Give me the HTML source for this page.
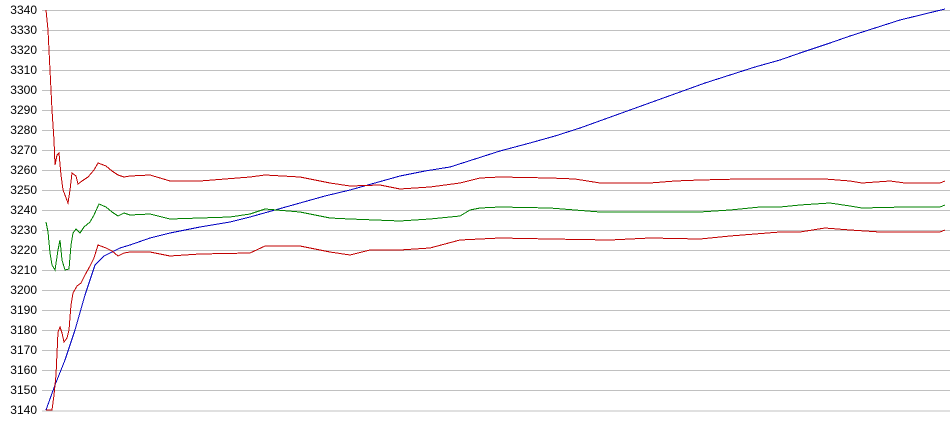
<!DOCTYPE html>
<html><head><style>body{margin:0;background:#fff}svg{display:block}text{font-family:"Liberation Sans",sans-serif;font-size:12px;fill:#000}</style></head><body>
<svg width="950" height="435" xmlns="http://www.w3.org/2000/svg">
<g stroke="#c0c0c0" stroke-width="1">
<line x1="42" x2="950" y1="10.5" y2="10.5"/><line x1="42" x2="950" y1="30.5" y2="30.5"/><line x1="42" x2="950" y1="50.5" y2="50.5"/><line x1="42" x2="950" y1="70.5" y2="70.5"/><line x1="42" x2="950" y1="90.5" y2="90.5"/><line x1="42" x2="950" y1="110.5" y2="110.5"/><line x1="42" x2="950" y1="130.5" y2="130.5"/><line x1="42" x2="950" y1="150.5" y2="150.5"/><line x1="42" x2="950" y1="170.5" y2="170.5"/><line x1="42" x2="950" y1="190.5" y2="190.5"/><line x1="42" x2="950" y1="210.5" y2="210.5"/><line x1="42" x2="950" y1="230.5" y2="230.5"/><line x1="42" x2="950" y1="250.5" y2="250.5"/><line x1="42" x2="950" y1="270.5" y2="270.5"/><line x1="42" x2="950" y1="290.5" y2="290.5"/><line x1="42" x2="950" y1="310.5" y2="310.5"/><line x1="42" x2="950" y1="330.5" y2="330.5"/><line x1="42" x2="950" y1="350.5" y2="350.5"/><line x1="42" x2="950" y1="370.5" y2="370.5"/><line x1="42" x2="950" y1="390.5" y2="390.5"/><line x1="42" x2="950" y1="411" y2="411"/>
</g>
<g text-anchor="end">
<text x="37" y="14">3340</text><text x="37" y="34">3330</text><text x="37" y="54">3320</text><text x="37" y="74">3310</text><text x="37" y="94">3300</text><text x="37" y="114">3290</text><text x="37" y="134">3280</text><text x="37" y="154">3270</text><text x="37" y="174">3260</text><text x="37" y="194">3250</text><text x="37" y="214">3240</text><text x="37" y="234">3230</text><text x="37" y="254">3220</text><text x="37" y="274">3210</text><text x="37" y="294">3200</text><text x="37" y="314">3190</text><text x="37" y="334">3180</text><text x="37" y="354">3170</text><text x="37" y="374">3160</text><text x="37" y="394">3150</text><text x="37" y="414">3140</text>
</g>
<g fill="none" stroke-width="1" shape-rendering="crispEdges">
<polyline stroke="#0000c0" points="46,410 55,385 65,360 75,330 85,295 95,265 104,256 110,253 120,248 130,245 150,238 170,233 200,227 230,222 250,217 275,210 300,203 325,196 350,190 375,183 400,176 425,171 450,167 475,159 500,151 530,143 555,136 580,128 605,119 630,110 655,101 680,92 705,83 730,75 755,67 780,60 800,53 830,43 850,36 875,28 900,20 945,9"/>
<polyline stroke="#008000" points="46,222 48,232 50,253 52,265 55,270 58,250 60,240 62,260 65,270 69,269 71,245 73,233 76,229 80,233 84,227 90,222 94,215 99,204 106,207 112,212 118,216 124,213 130,215 150,214 170,219 200,218 230,217 250,214 265,209 300,212 330,218 350,219 375,220 400,221 430,219 460,216 470,210 480,208 500,207 550,208 575,210 600,212 650,212 700,212 730,210 760,207 780,207 800,205 830,203 850,206 862,208 905,207 940,207 945,205"/>
<polyline stroke="#c00000" points="46,10 48,30 50,70 52,110 54,140 55,165 57,155 59,153 61,175 63,190 65,195 68,203 70,190 72,173 76,176 78,184 82,181 88,177 94,170 98,163 106,166 112,171 118,175 124,177 130,176 150,175 170,181 200,181 225,179 250,177 265,175 300,177 330,183 350,186 380,185 400,189 430,187 460,183 480,178 500,177 550,178 575,179 600,183 650,183 675,181 700,180 740,179 780,179 825,179 850,181 862,183 890,181 905,183 940,183 945,181"/>
<polyline stroke="#c00000" points="46,410 52,410 54,395 56,375 58,332 60,327 62,333 64,342 67,338 69,330 71,305 73,293 77,286 81,283 85,275 90,266 94,258 98,245 106,248 112,251 118,256 124,253 130,252 150,252 170,256 200,254 250,253 265,246 300,246 330,252 350,255 370,250 400,250 430,248 460,240 480,239 500,238 550,239 610,240 650,238 700,239 730,236 780,232 800,232 825,228 850,230 880,232 940,232 945,230"/>
</g>
</svg>
</body></html>
